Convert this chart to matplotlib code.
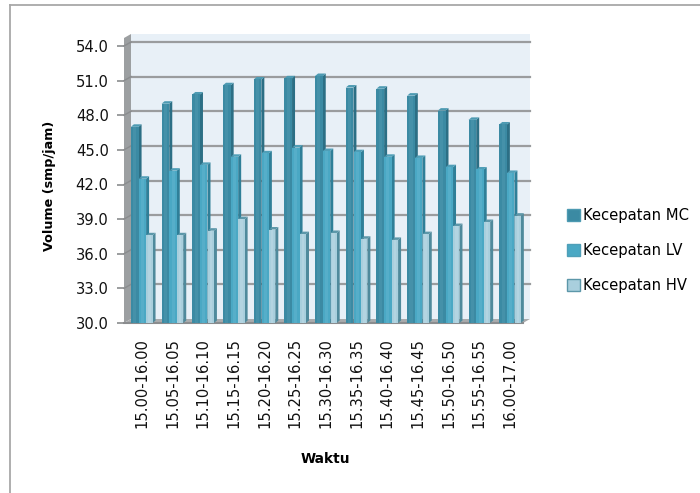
import matplotlib
matplotlib.use("Agg")
import matplotlib.pyplot as plt
from matplotlib.patches import Polygon, Patch

waktu = ['15.00-16.00', '15.05-16.05', '15.10-16.10', '15.15-16.15', '15.20-16.20',
         '15.25-16.25', '15.30-16.30', '15.35-16.35', '15.40-16.40', '15.45-16.45',
         '15.50-16.50', '15.55-16.55', '16.00-17.00']
kecepatan_mc = [47.0, 49.0, 49.8, 50.6, 51.1, 51.2, 51.4, 50.4, 50.3, 49.7, 48.4, 47.6, 47.2]
kecepatan_lv = [42.5, 43.2, 43.7, 44.4, 44.7, 45.2, 44.9, 44.8, 44.4, 44.3, 43.5, 43.3, 43.0]
kecepatan_hv = [37.6, 37.6, 38.0, 39.0, 38.1, 37.7, 37.8, 37.3, 37.2, 37.7, 38.4, 38.75, 39.3]
y_ticks = [30, 33, 36, 39, 42, 45, 48, 51, 54]

W, H = 700, 493
fig = plt.figure(figsize=(7, 4.93), dpi=100)
ax = fig.add_axes([124 / W, 1 - 323 / H, 399 / W, 277 / H])
ax.set_xlim(-0.5, 12.5)
ax.set_ylim(30, 54)
ax.patch.set_visible(False)

# one pixel in data units, for the fake 3D depth
px_x = 13 / 399
px_y = 24 / 277
wall_dx, wall_dy = 7 * px_x, 4 * px_y
wall_top = 54 + 8 * px_y
bar_dx, bar_dy = 3 * px_x, 2.5 * px_y


def poly(pts, color, z, ec='none'):
    ax.add_patch(Polygon(pts, closed=True, fc=color, ec=ec, lw=0.5, zorder=z, clip_on=False))


# back wall, side wall, floor
x0, x1 = -0.5, 12.5
poly([(x0 + wall_dx, 30 + wall_dy), (x1 + wall_dx, 30 + wall_dy),
      (x1 + wall_dx, wall_top + wall_dy), (x0 + wall_dx, wall_top + wall_dy)], '#e8f0f7', 0)
poly([(x0, 30), (x0 + wall_dx, 30 + wall_dy), (x0 + wall_dx, wall_top + wall_dy), (x0, wall_top)], '#9c9fa1', 1)
poly([(x0, 30), (x1, 30), (x1 + wall_dx, 30 + wall_dy), (x0 + wall_dx, 30 + wall_dy)], '#a9abad', 1)

# gridlines on the wall
for t in y_ticks[1:]:
    ax.plot([x0 + wall_dx, x1 + wall_dx], [t + wall_dy, t + wall_dy], color='#9a9c9e', lw=1.6, zorder=1.5, clip_on=False)
    ax.plot([x0, x0 + wall_dx], [t, t + wall_dy], color='#8a8c8e', lw=1.0, zorder=1.5, clip_on=False)

series = [
    (kecepatan_mc, 'Kecepatan MC', -0.15, 0.25, '#3b8aa3', '#2c6f85', '#4d9ab2', '#5aa0b6'),
    (kecepatan_lv, 'Kecepatan LV', 0.10, 0.24, '#4aa8c4', '#2f7f98', '#4f9fb8', '#6dbcd4'),
    (kecepatan_hv, 'Kecepatan HV', 0.33, 0.20, '#a9cfdd', '#4f8a9c', '#5c97a9', '#c6e0ea'),
]

handles = []
for s, (vals, name, off, w, face, side, top, light) in enumerate(series):
    for i, v in enumerate(vals):
        left = i + off - w / 2
        right = left + w
        z = 3 + i * 3 + s * 0.5
        ax.bar(i + off, v - 30, bottom=30, width=w, color=face, zorder=z + 0.1)
        ax.bar(i + off, v - 30, bottom=30, width=w * 0.4, color=light, alpha=0.35, zorder=z + 0.2)
        poly([(right, 30), (right + bar_dx, 30 + bar_dy), (right + bar_dx, v + bar_dy), (right, v)], side, z)
        poly([(left, v), (left + bar_dx, v + bar_dy), (right + bar_dx, v + bar_dy), (right, v)], top, z)
    handles.append(Patch(facecolor=face, edgecolor=top, linewidth=1.0, label=name))

for spine in ax.spines.values():
    spine.set_visible(False)
ax.spines['bottom'].set_visible(True)
ax.spines['bottom'].set_color('#8a8c8e')
ax.spines['bottom'].set_linewidth(1.5)

ax.set_yticks(y_ticks)
ax.set_yticklabels([f'{t:.1f}' for t in y_ticks], fontsize=10.6, color='#111111')
ax.tick_params(axis='y', length=5, width=1.2, color='#8a8c8e', pad=6)
ax.set_xticks([i + 0.08 for i in range(len(waktu))])
ax.set_xticklabels(waktu, rotation=90, fontsize=10.6, color='#111111')
ax.tick_params(axis='x', length=0, pad=11)

fig.text(50 / W, 1 - 186 / H, 'Volume (smp/jam)', rotation=90, fontsize=9.2, fontweight='bold', ha='center', va='center')
fig.text(325 / W, 1 - 459 / H, 'Waktu', fontsize=9.9, fontweight='bold', ha='center', va='center')

fig.legend(handles=handles, loc='center left', bbox_to_anchor=(567 / W, 1 - 250.5 / H), frameon=False,
           fontsize=10.6, labelspacing=1.35, handlelength=0.85, handleheight=0.85, handletextpad=0.25,
           borderpad=0, borderaxespad=0)

# frame of the original screenshot
fig.add_artist(plt.Line2D([10 / W, 10 / W], [0, 1 - 5 / H], color='#a8a8a8', lw=1.3))
fig.add_artist(plt.Line2D([10 / W, 1], [1 - 5 / H, 1 - 5 / H], color='#a8a8a8', lw=1.3))

fig.savefig('out.png', dpi=100)
